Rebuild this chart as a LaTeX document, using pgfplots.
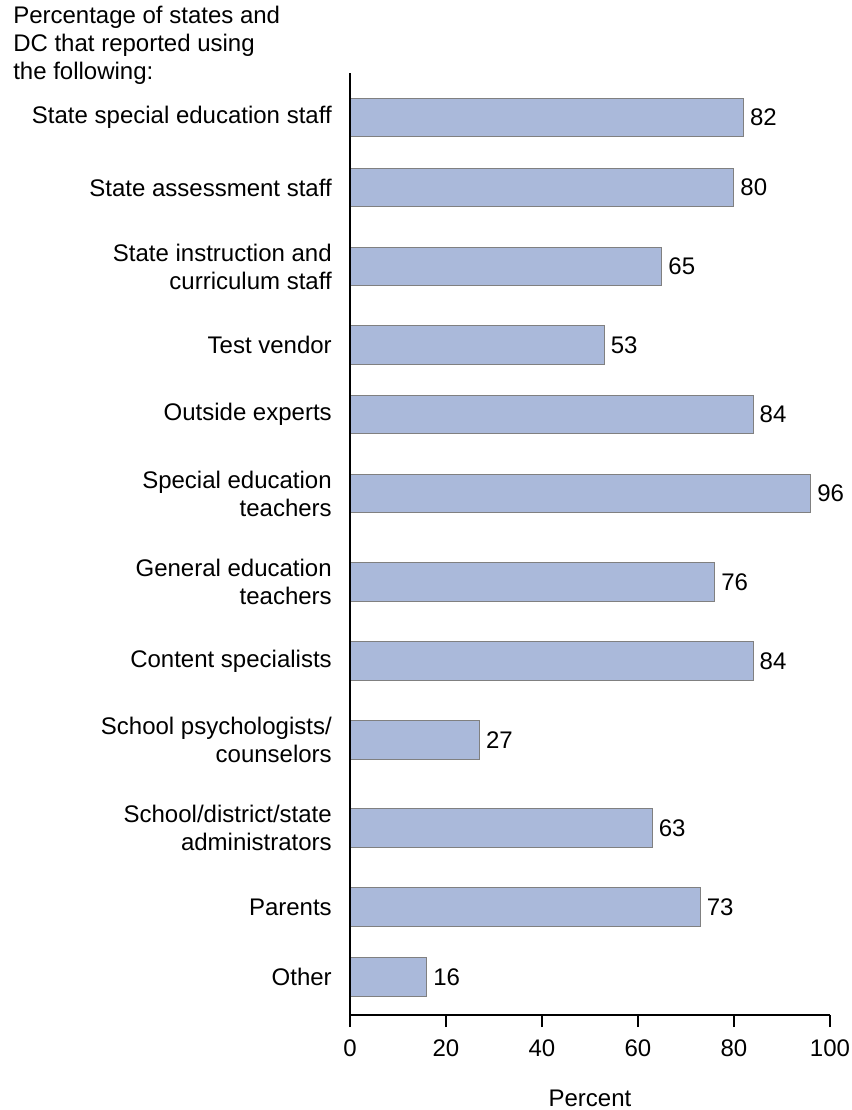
\documentclass[border=0pt]{standalone}
\usepackage{fontspec}
\setmainfont{Liberation Sans}
\usepackage{pgfplots}
\pgfplotsset{compat=1.18}
\definecolor{barfill}{RGB}{170,185,218}
\definecolor{baredge}{RGB}{128,128,128}
\newcommand\cf{\fontsize{18}{21}\selectfont}
\pgfplotstableread{
val pos
82 117.5
80 187.5
65 266.5
53 345
84 414.3
96 493.7
76 582
84 661
27 740
63 828
73 907
16 977
}\datatable
\begin{document}
\cf
\begin{tikzpicture}
\path[use as bounding box] (-262.5pt,-71.25pt) rectangle (375.75pt,761.25pt);
\node[anchor=base west, align=left, inner sep=0pt, font=\cf] at (-252.75pt,701.5pt)
  {Percentage of states and\\DC that reported using\\the following:};
\begin{axis}[
  at={(0pt,0pt)}, anchor=south west, scale only axis,
  width=360pt, height=706.5pt,
  xmin=0, xmax=100, ymin=73, ymax=1015, y dir=reverse,
  axis on top,
  axis x line*=bottom, axis y line*=left,
  axis line style={black, line width=1.3pt, -},
  xtick={0,20,40,60,80,100},
  tick align=outside,
  major tick length=9pt,
  xtick style={black, line width=1.3pt},
  ytick={117.5,187.5,266.5,345,414.3,493.7,582,661,740,828,907,977},
  ytick style={draw=none},
  yticklabels={State special education staff, State assessment staff, {State instruction and\\curriculum staff}, Test vendor, Outside experts, {Special education\\teachers}, {General education\\teachers}, Content specialists, {School psychologists/\\counselors}, {School/district/state\\administrators}, Parents, Other},
  yticklabel style={align=right, font=\cf, inner sep=0pt, anchor=east, xshift=-4.5pt},
  xticklabel style={font=\cf, anchor=base, inner sep=0pt, yshift=-21.75pt},
  /pgf/number format/assume math mode=true,
  xlabel={Percent},
  xlabel style={font=\cf, at={(axis description cs:0.5,0)}, anchor=base, yshift=-68.25pt, inner sep=0pt},
  clip=false,
]
\addplot[xbar, bar width=28.8pt, fill=barfill, draw=baredge, line width=0.75pt,
  nodes near coords, point meta=x, nodes near coords style={anchor=west, font=\cf, inner sep=0pt, xshift=4.5pt, text=black}]
  table[x=val, y=pos] {\datatable};
\end{axis}
\end{tikzpicture}
\end{document}
